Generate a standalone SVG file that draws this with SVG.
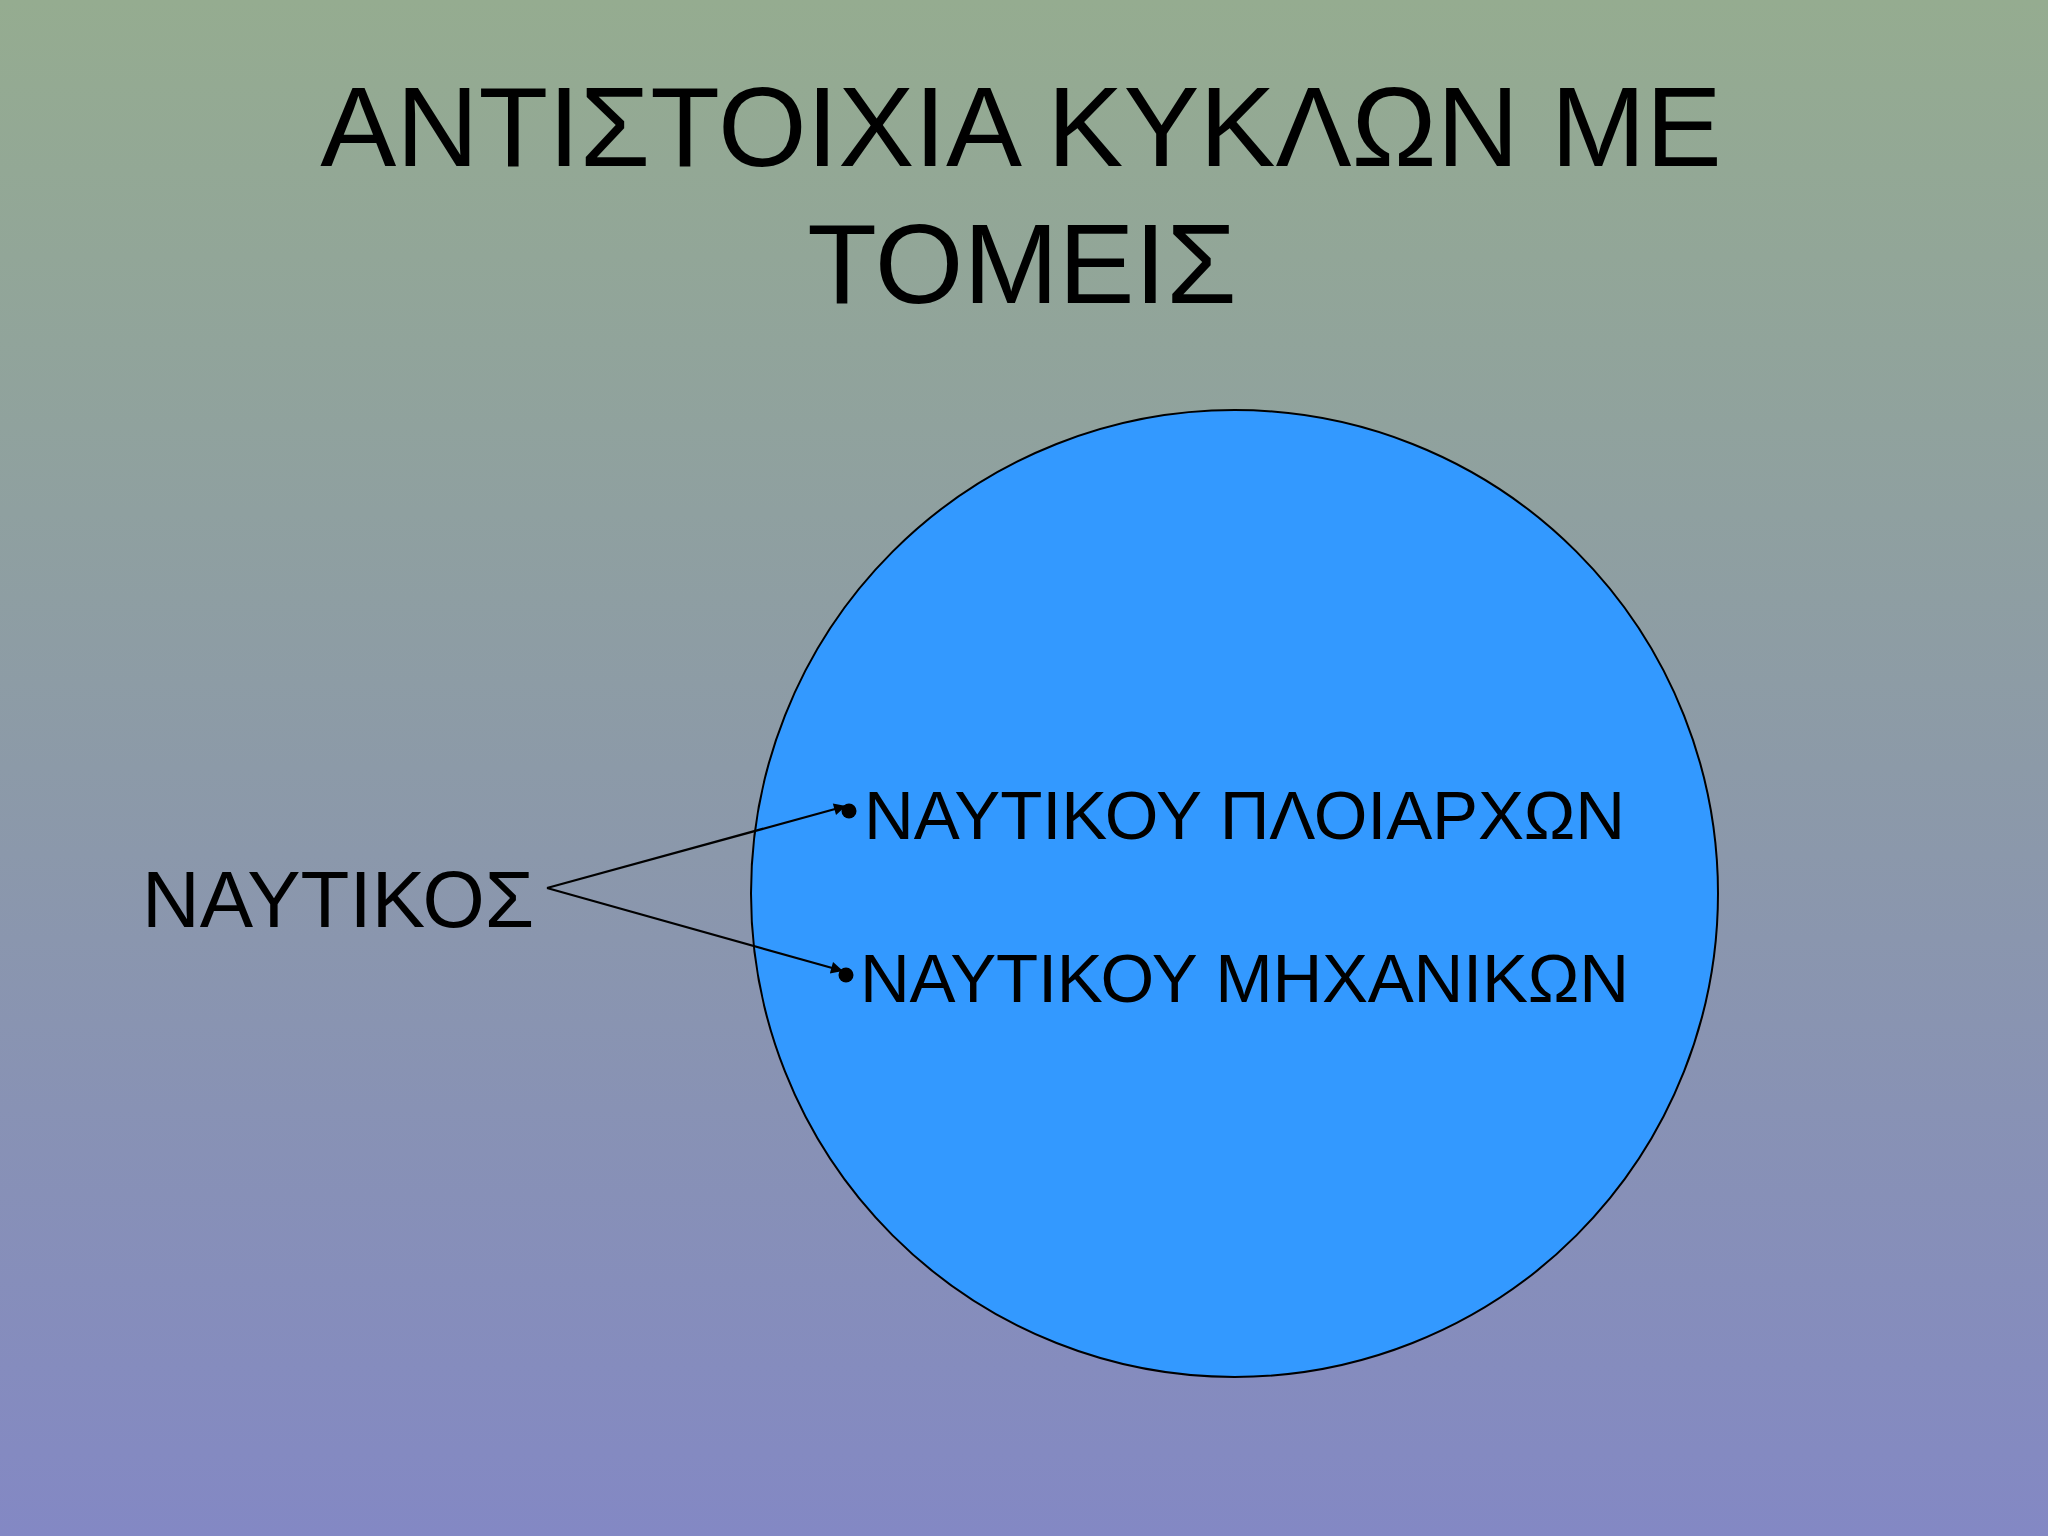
<svg xmlns="http://www.w3.org/2000/svg" width="2048" height="1536" viewBox="0 0 2048 1536">
<defs>
<linearGradient id="bg" x1="0" y1="0" x2="0" y2="1">
<stop offset="0" stop-color="#95ac90"/>
<stop offset="0.5" stop-color="#8c9aa8"/>
<stop offset="1" stop-color="#8388c4"/>
</linearGradient>
<marker id="arr" viewBox="0 0 10 10" refX="10" refY="5" markerWidth="14" markerHeight="12" markerUnits="userSpaceOnUse" orient="auto">
<path d="M0,0 L10,5 L0,10 z" fill="#000"/>
</marker>
<style>
text{font-family:"Liberation Sans",Arial,sans-serif;fill:#000}
.title{font-size:114px;text-anchor:middle}
.item{font-size:69px}
.conn{stroke:#000;stroke-width:2.2;fill:none;marker-end:url(#arr)}
</style>
</defs>
<rect width="2048" height="1536" fill="url(#bg)"/>
<g id="title">
<text class="title" x="1021" y="166">ΑΝΤΙΣΤΟΙΧΙΑ ΚΥΚΛΩΝ ΜΕ</text>
<text class="title" x="1022" y="303">ΤΟΜΕΙΣ</text>
</g>
<g id="circle">
<circle cx="1234.5" cy="893.5" r="483.5" fill="#3399ff" stroke="#000" stroke-width="2"/>
</g>
<g id="nautikos">
<text x="142" y="927" font-size="80">ΝΑΥΤΙΚΟΣ</text>
</g>
<g id="ploiarchon">
<circle cx="849" cy="811" r="7.5" fill="#000"/>
<text class="item" x="864" y="839" textLength="761">ΝΑΥΤΙΚΟΥ ΠΛΟΙΑΡΧΩΝ</text>
</g>
<g id="michanikon">
<circle cx="846" cy="975" r="7.5" fill="#000"/>
<text class="item" x="860" y="1002" textLength="769">ΝΑΥΤΙΚΟΥ ΜΗΧΑΝΙΚΩΝ</text>
</g>
<g id="connectors">
<line class="conn" x1="547" y1="888" x2="846" y2="806"/>
<line class="conn" x1="547" y1="888" x2="843" y2="971"/>
</g>
</svg>
